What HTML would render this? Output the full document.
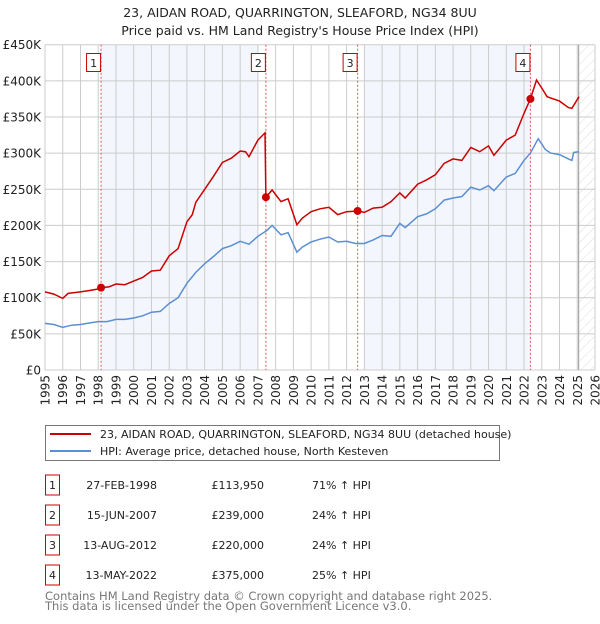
<!DOCTYPE html>
<html><head><meta charset="utf-8"><style>
body{margin:0;background:#fff;font-family:"DejaVu Sans","Liberation Sans",sans-serif;}
svg text{font-family:"DejaVu Sans","Liberation Sans",sans-serif;}
</style></head><body>
<svg id="chart" width="600" height="620" xmlns="http://www.w3.org/2000/svg">
<text x="300" y="17" font-size="12.5" text-anchor="middle" fill="#222">23, AIDAN ROAD, QUARRINGTON, SLEAFORD, NG34 8UU</text>
<text x="300" y="35" font-size="12.5" text-anchor="middle" fill="#222">Price paid vs. HM Land Registry's House Price Index (HPI)</text>
<g id="plot"></g>
<g>
<rect x="45.5" y="425.5" width="454" height="35" fill="#fff" stroke="#777"/>
<line x1="50" y1="434" x2="91" y2="434" stroke="#cc0000" stroke-width="2"/>
<text x="100" y="438" font-size="11" fill="#222">23, AIDAN ROAD, QUARRINGTON, SLEAFORD, NG34 8UU (detached house)</text>
<line x1="50" y1="451" x2="91" y2="451" stroke="#5b8fd4" stroke-width="2"/>
<text x="100" y="455" font-size="11" fill="#222">HPI: Average price, detached house, North Kesteven</text>
</g>
<g id="table"></g>
<text x="45" y="600" font-size="11.5" fill="#777">Contains HM Land Registry data © Crown copyright and database right 2025.</text>
<text x="45" y="610" font-size="11.5" fill="#777">This data is licensed under the Open Government Licence v3.0.</text>
</svg>
<script>
const hpiYears=[1995,1995.5,1996,1996.5,1997,1997.5,1998,1998.5,1999,1999.5,2000,2000.5,2001,2001.5,2002,2002.5,2003,2003.5,2004,2004.5,2005,2005.5,2006,2006.5,2007,2007.5,2007.8,2008.3,2008.7,2009.2,2009.5,2010,2010.5,2011,2011.5,2012,2012.5,2013,2013.5,2014,2014.5,2015,2015.3,2016,2016.5,2017,2017.5,2018,2018.5,2019,2019.5,2020,2020.3,2021,2021.5,2022,2022.36,2022.8,2023.2,2023.5,2024,2024.5,2024.7,2024.8,2025.1];
const hpiValues=[64.5,63,59,62,63,65,67,67,70,70,72,75,80,81,92,100,120,135,147,157,168,172,178,174,185,193,200,187,190,163,170,177,181,184,177,178,175,175,180,186,185,203,197,212,216,223,235,238,240,253,249,255,248,267,272,290,300,320,305,300,298,292,290,301,302];
const redYears=[1995,1995.5,1996,1996.3,1997,1997.5,1998,1998.16,1998.6,1999,1999.5,2000,2000.5,2001,2001.5,2002,2002.5,2003,2003.3,2003.5,2004,2004.5,2005,2005.5,2006,2006.3,2006.5,2007,2007.4,2007.45,2007.8,2008.3,2008.7,2009.2,2009.5,2010,2010.5,2011,2011.5,2012,2012.62,2013,2013.5,2014,2014.5,2015,2015.3,2016,2016.5,2017,2017.5,2018,2018.5,2019,2019.5,2020,2020.3,2021,2021.5,2022,2022.36,2022.7,2023,2023.3,2024,2024.5,2024.7,2025.1];
const redValues=[108,105,99,106,108,110,112,114,115,119,118,123,128,137,138,158,168,205,215,232,250,268,287,293,303,302,295,318,328,239,249,233,237,201,210,219,223,225,215,219,220,218,224,225,233,245,238,257,263,270,286,292,290,308,302,310,297,318,325,355,375,401,390,378,372,363,362,378];
const saleYears=[1998.16,2007.45,2012.62,2022.36];
const saleValues=[113.95,239,220,375];
const saleLabels=["1","2","3","4"];
const saleDates=["27-FEB-1998","15-JUN-2007","13-AUG-2012","13-MAY-2022"];
const salePrices=["£113,950","£239,000","£220,000","£375,000"];
const salePct=["71% ↑ HPI","24% ↑ HPI","24% ↑ HPI","25% ↑ HPI"];
const yTicks=[0,50,100,150,200,250,300,350,400,450];
const yTickLabels=["£0","£50K","£100K","£150K","£200K","£250K","£300K","£350K","£400K","£450K"];
const xTicks=[1995,1996,1997,1998,1999,2000,2001,2002,2003,2004,2005,2006,2007,2008,2009,2010,2011,2012,2013,2014,2015,2016,2017,2018,2019,2020,2021,2022,2023,2024,2025,2026];
const shadeBands=[[1998.16,2007.0],[2013.0,2022.36]];
const dataEnd=2025.08;

const L=45,R=595,T=44.7,B=370;
const xs=y=>L+(y-1995)/(2026-1995)*(R-L);
const ys=v=>B-v/450*(B-T);
const NS="http://www.w3.org/2000/svg";
const plot=document.getElementById('plot');
function mk(tag,attrs,parent,text){const e=document.createElementNS(NS,tag);for(const k in attrs)e.setAttribute(k,attrs[k]);if(text!==undefined)e.textContent=text;(parent||plot).appendChild(e);return e;}

for(const b of shadeBands){const r=mk('rect',{x:xs(b[0]),y:T,width:xs(b[1])-xs(b[0]),height:B-T,fill:'#f3f6fd'});

}
const defs=mk('defs',{});
const pat=mk('pattern',{id:'hatch',patternUnits:'userSpaceOnUse',width:7,height:7,patternTransform:'rotate(45)'},defs);
mk('line',{x1:0,y1:0,x2:0,y2:7,stroke:'#d4d4d4','stroke-width':0.8},pat);
const hr=mk('rect',{x:xs(dataEnd),y:T,width:R-xs(dataEnd),height:B-T,fill:'url(#hatch)'});



xTicks.forEach(t=>{const l=mk('line',{x1:xs(t),y1:T,x2:xs(t),y2:B,stroke:'#ccc','stroke-width':1});


const x=xs(t);const tx=mk('text',{x:0,y:0,'font-size':12,fill:'#222','text-anchor':'end',transform:`translate(${x+4.5},${B+5}) rotate(-90)`},plot,String(t));

});
yTicks.forEach((t,i)=>{const l=mk('line',{x1:L,y1:ys(t),x2:R,y2:ys(t),stroke:'#ccc','stroke-width':1});


const tx=mk('text',{x:L-4,y:ys(t)+4.5,'font-size':12,fill:'#222','text-anchor':'end'},plot,yTickLabels[i]);

});
const dl=mk('line',{x1:xs(dataEnd),y1:T,x2:xs(dataEnd),y2:B,stroke:'#999','stroke-width':1});



saleYears.forEach((y,i)=>{const l=mk('line',{x1:xs(y),y1:T,x2:xs(y),y2:B,stroke:'#e05555','stroke-width':1,'stroke-dasharray':'2,2'});


const r=mk('rect',{x:xs(y)-14.5,y:53.5,width:14,height:18,fill:'#fff',stroke:'#cc0000'});


const t=mk('text',{x:xs(y)-7.5,y:67,'font-size':11,'text-anchor':'middle',fill:'#222'},plot,saleLabels[i]);

});

const path=(xa,va)=>xa.map((y,i)=>(i?'L':'M')+xs(y).toFixed(1)+','+ys(va[i]).toFixed(1)).join('');
const hp=mk('path',{d:path(hpiYears,hpiValues),fill:'none',stroke:'#5b8fd4','stroke-width':1.5});


const rp=mk('path',{d:path(redYears,redValues),fill:'none',stroke:'#cc0000','stroke-width':1.5});


saleYears.forEach((y,i)=>{const c=mk('circle',{cx:xs(y),cy:ys(saleValues[i]),r:4,fill:'#cc0000'});

});

const tbl=document.getElementById('table');
saleLabels.forEach((s,i)=>{const cy=485+i*30;
const r=mk('rect',{x:45.5,y:cy-10,width:14,height:20,fill:'#fff',stroke:'#cc0000'},tbl);


const a=mk('text',{x:52.5,y:cy+4,'font-size':11,'text-anchor':'middle',fill:'#222'},tbl,s);


const d=mk('text',{x:157,y:cy+4,'font-size':11,'text-anchor':'end',fill:'#222'},tbl,saleDates[i]);


const p=mk('text',{x:264,y:cy+4,'font-size':11,'text-anchor':'end',fill:'#222'},tbl,salePrices[i]);


const q=mk('text',{x:312,y:cy+4,'font-size':11,fill:'#222'},tbl,salePct[i]);

});
</script>
</body></html>
